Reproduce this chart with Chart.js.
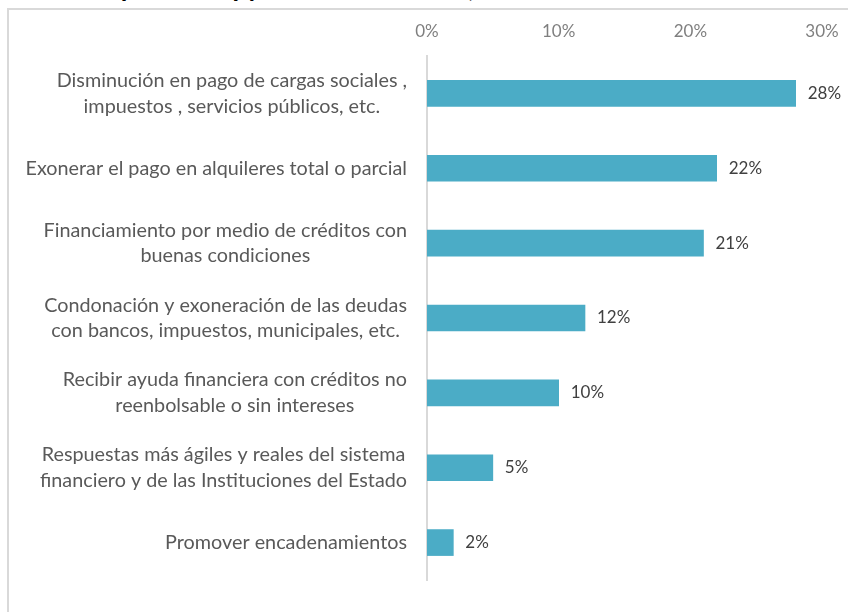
<!DOCTYPE html>
<html>
<head>
<meta charset="utf-8">
<script src="https://cdn.jsdelivr.net/npm/chart.js@4.4.1/dist/chart.umd.min.js"></script>
<style>
  html, body { margin: 0; padding: 0; background: #ffffff; overflow: hidden; }
  #wrap { position: relative; width: 848px; height: 612px; overflow: hidden; background: #fff; }
  #title { position: absolute; left: 5px; top: -26px; font-family: Lato, "Liberation Sans", sans-serif;
           font-weight: bold; font-size: 26.5px; line-height: 26.5px; color: #000; white-space: nowrap; }
  #frame { position: absolute; left: 7px; top: 8px; width: 900px; height: 700px;
           border-left: 2px solid #d9d9d9; border-top: 2px solid #d9d9d9; }
  canvas { position: absolute; left: 0; top: 0; }
</style>
</head>
<body>
<div id="wrap">
  <div id="title">Medidas que las Mipymes recomiendan, 2020</div>
  <div id="frame"></div>
  <canvas id="c" width="848" height="612"></canvas>
</div>
<script>
const categories = [
  ["Disminución en pago de cargas sociales ,", "impuestos , servicios públicos, etc."],
  ["Exonerar el pago en alquileres total o parcial"],
  ["Financiamiento por medio de créditos con", "buenas condiciones"],
  ["Condonación y exoneración de las deudas", "con bancos, impuestos, municipales, etc."],
  ["Recibir ayuda financiera con créditos no", "reenbolsable o sin intereses"],
  ["Respuestas más ágiles y reales del sistema", "financiero y de las Instituciones del Estado"],
  ["Promover encadenamientos"]
];
const values = [0.28, 0.22, 0.21, 0.12, 0.10, 0.05, 0.02];
const valueLabels = ["28%", "22%", "21%", "12%", "10%", "5%", "2%"];
const axisMin = 0, axisMax = 0.30, axisStep = 0.10;

const FONT = 'Lato, "Liberation Sans", sans-serif';

const labelPlugin = {
  id: 'customLabels',
  afterDatasetsDraw(chart) {
    const ctx = chart.ctx;
    const yScale = chart.scales.y;
    const meta = chart.getDatasetMeta(0);
    ctx.save();
    // value labels
    ctx.font = '17px ' + FONT;
    ctx.fillStyle = '#404040';
    ctx.textAlign = 'left';
    ctx.textBaseline = 'middle';
    meta.data.forEach((bar, i) => {
      ctx.fillText(valueLabels[i], bar.x + 12, bar.y);
    });
    // category labels, lines centred within a right-aligned block
    ctx.font = '19.8px ' + FONT;
    ctx.fillStyle = '#595959';
    ctx.textAlign = 'center';
    const rightEdge = chart.chartArea.left - 20;
    const lineH = 25.5;
    categories.forEach((lines, i) => {
      const yc = yScale.getPixelForValue(i);
      const maxW = Math.max(...lines.map(l => ctx.measureText(l).width));
      const cx = rightEdge - maxW / 2;
      const y0 = yc - (lines.length - 1) * lineH / 2;
      lines.forEach((l, k) => ctx.fillText(l, cx, y0 + k * lineH));
    });
    ctx.restore();
  }
};

new Chart(document.getElementById('c'), {
  type: 'bar',
  data: {
    labels: categories.map(c => c.join(' ')),
    datasets: [{
      data: values,
      backgroundColor: '#4BACC6',
      borderWidth: 0,
      barThickness: 26
    }]
  },
  options: {
    indexAxis: 'y',
    responsive: false,
    animation: false,
    devicePixelRatio: 1,
    layout: { padding: { left: 427, right: 26, top: 16, bottom: 32 } },
    plugins: { legend: { display: false }, tooltip: { enabled: false }, title: { display: false } },
    scales: {
      x: {
        position: 'top',
        min: axisMin, max: axisMax,
        grid: { display: false, drawTicks: false },
        border: { display: false },
        ticks: {
          stepSize: axisStep,
          padding: 14,
          color: '#7f7f7f',
          font: { family: FONT, size: 17 },
          callback: v => Math.round(v * 100) + '%'
        },
        afterFit(scale) { scale.height = 40; scale.paddingRight = 0; scale.paddingLeft = 0; }
      },
      y: {
        grid: { display: false, drawTicks: false },
        border: { display: true, color: '#d9d9d9', width: 2 },
        ticks: { display: false },
        afterFit(scale) { scale.width = 0; }
      }
    }
  },
  plugins: [labelPlugin]
});
</script>
</body>
</html>
